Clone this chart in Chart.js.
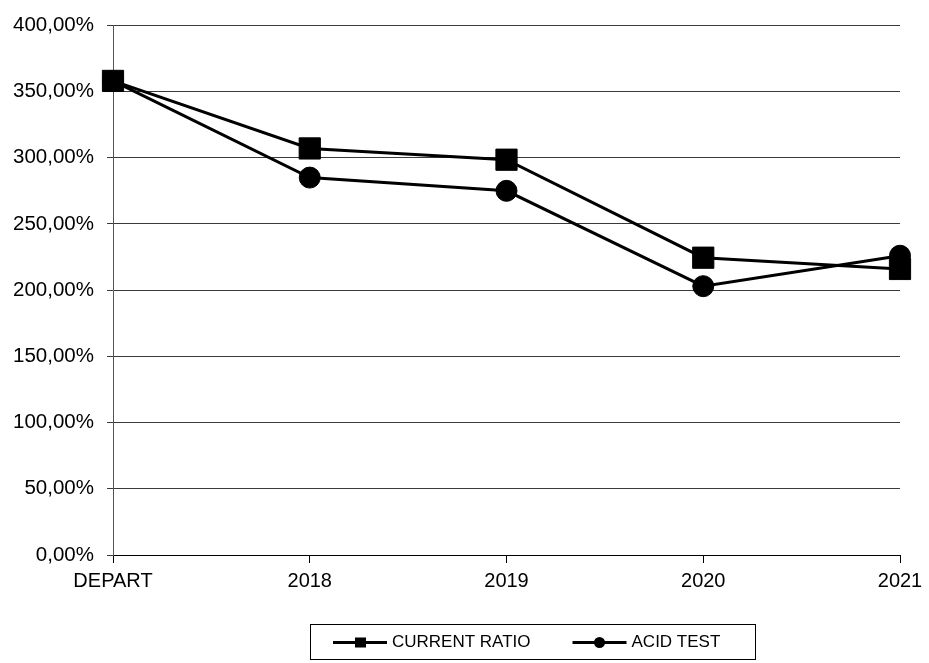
<!DOCTYPE html>
<html>
<head>
<meta charset="utf-8">
<script src="https://cdn.jsdelivr.net/npm/chart.js@4/dist/chart.umd.min.js"></script>
<style>
  html, body { margin: 0; padding: 0; background: #fff; }
  #wrap { width: 929px; height: 663px; }
</style>
</head>
<body>
<div id="wrap"><canvas id="ratioChart"></canvas></div>
<script>
// --- datos ---
const categorias = ['DEPART', '2018', '2019', '2020', '2021'];
const currentRatio = [358, 307, 298.5, 224.5, 216];
const acidTest = [358, 285, 275, 203, 226];
const nombresSeries = ['CURRENT RATIO', 'ACID TEST'];
const estilosPunto = ['rect', 'circle'];

const FUENTE = 'Liberation Sans, Arial, sans-serif';

function formatoPct(v) {
    return v.toFixed(2).replace('.', ',') + '%';
}

// leyenda dibujada a mano: linea con marcador + texto, dentro de un recuadro
const leyendaCaja = {
    id: 'leyendaCaja',
    afterDraw(chart) {
        const ctx = chart.ctx;
        ctx.save();
        ctx.font = '17px ' + FUENTE;
        ctx.textBaseline = 'middle';
        const left = 310, top = 624, h = 35, w = 445;
        const cy = top + h / 2 + 1;
        ctx.strokeStyle = '#000';
        ctx.lineWidth = 1;
        ctx.strokeRect(left + 0.5, top + 0.5, w, h);

        let x = left + 23;
        chart.data.datasets.forEach((ds) => {
            ctx.strokeStyle = '#000';
            ctx.lineWidth = 3;
            ctx.beginPath();
            ctx.moveTo(x, cy);
            ctx.lineTo(x + 54, cy);
            ctx.stroke();
            ctx.fillStyle = '#000';
            if (ds.pointStyle === 'rect') {
                ctx.fillRect(x + 22, cy - 5, 11, 10);
            } else {
                ctx.beginPath();
                ctx.arc(x + 27, cy, 5.5, 0, Math.PI * 2);
                ctx.fill();
            }
            ctx.fillText(ds.label, x + 59, cy);
            x += 59 + ctx.measureText(ds.label).width + 42;
        });
        ctx.restore();
    }
};

const ctx = document.getElementById('ratioChart').getContext('2d');
new Chart(ctx, {
    type: 'line',
    data: {
        labels: categorias,
        datasets: [currentRatio, acidTest].map((serie, i) => ({
            label: nombresSeries[i],
            data: serie,
            borderColor: '#000',
            backgroundColor: '#000',
            borderWidth: 3,
            pointStyle: estilosPunto[i],
            pointRadius: i === 0 ? 15 : 10.5,
            pointBorderWidth: 1,
            pointBackgroundColor: '#000',
            tension: 0,
            order: 1 - i
        }))
    },
    options: {
        responsive: true,
        maintainAspectRatio: false,
        animation: false,
        layout: { padding: { top: 21, right: 29, bottom: 0, left: 0 } },
        plugins: {
            legend: { display: false },
            tooltip: { enabled: false }
        },
        scales: {
            x: {
                offset: false,
                afterFit: (scale) => { scale.height = 108; },
                grid: { drawOnChartArea: false, drawTicks: true, tickLength: 8, color: '#000' },
                border: { color: '#000', width: 1 },
                ticks: {
                    color: '#000',
                    padding: 6,
                    maxRotation: 0,
                    font: { family: FUENTE, size: 20 }
                }
            },
            y: {
                min: 0,
                max: 400,
                afterFit: (scale) => { scale.width = 113; },
                grid: { color: '#3a3a3a', tickLength: 6, lineWidth: 1 },
                border: { color: '#555', width: 1 },
                ticks: {
                    stepSize: 50,
                    color: '#000',
                    padding: 13,
                    font: { family: FUENTE, size: 20.5 },
                    callback: (v) => formatoPct(v)
                }
            }
        }
    },
    plugins: [leyendaCaja]
});
</script>
</body>
</html>
